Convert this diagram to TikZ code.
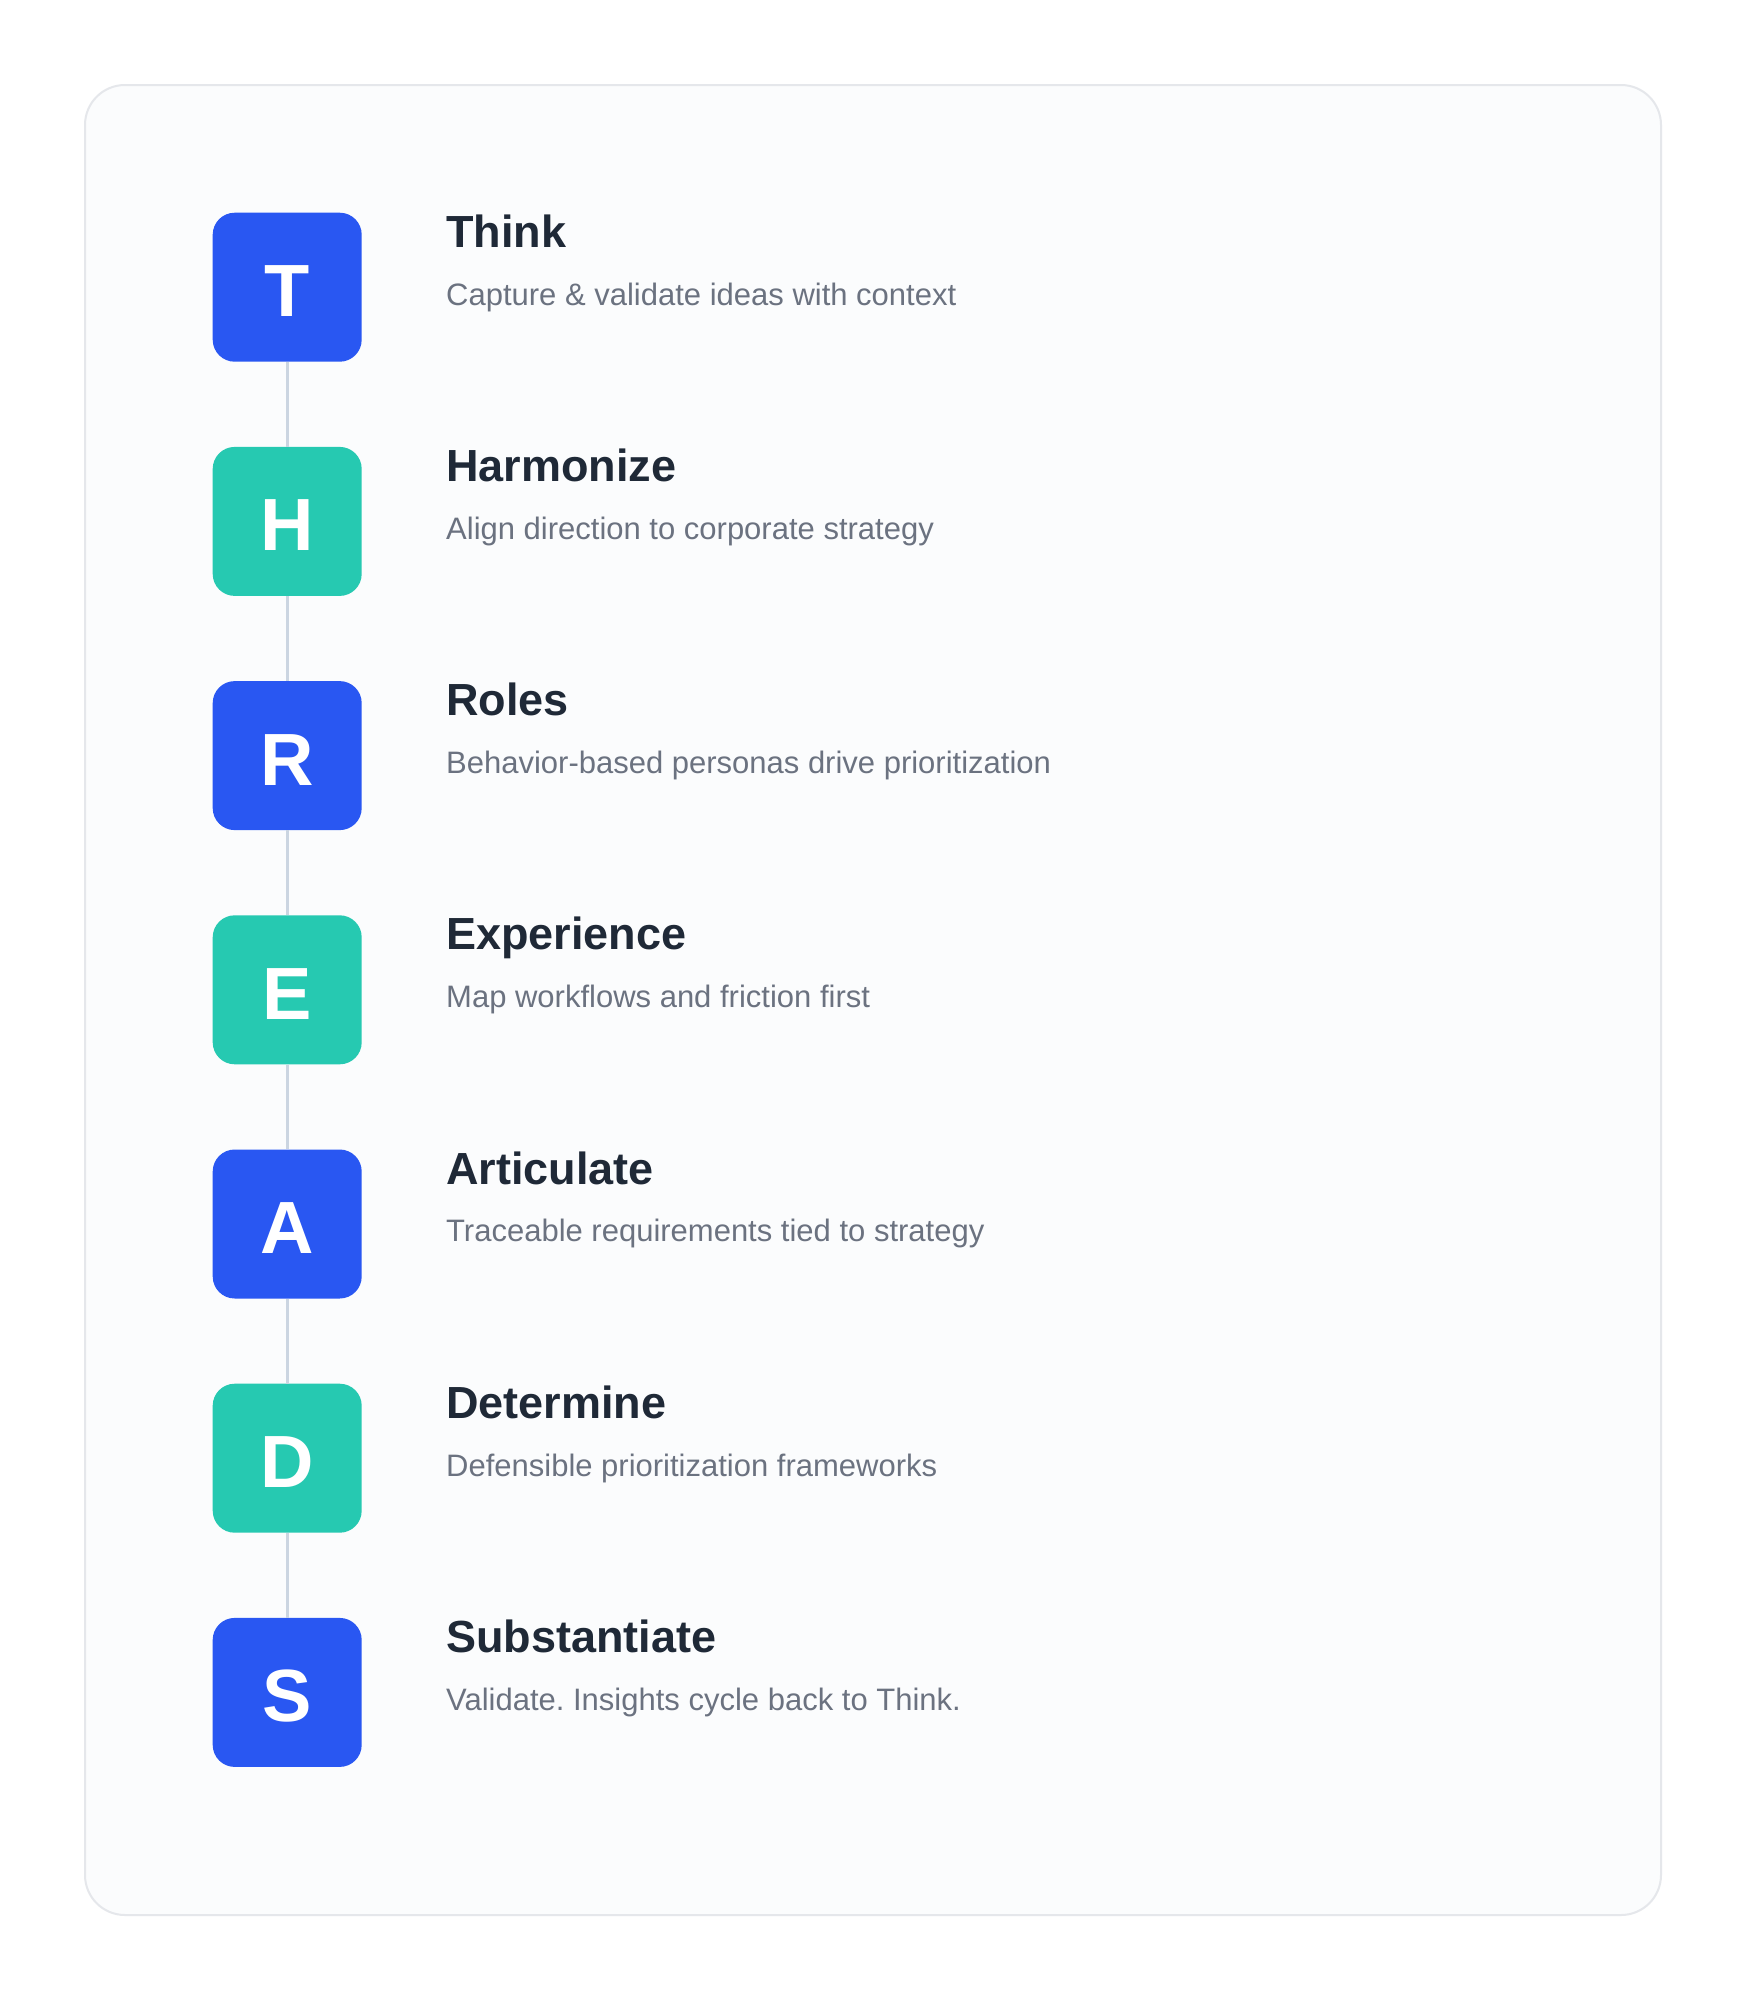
\documentclass[tikz,border=0pt]{standalone}
\usepackage{fontspec}
\setmainfont{Liberation Sans}
\definecolor{cardfill}{HTML}{FBFCFD}
\definecolor{cardline}{HTML}{E5E7EB}
\definecolor{linkline}{HTML}{CBD5E1}
\definecolor{bluebox}{RGB}{41,87,242}
\definecolor{tealbox}{RGB}{38,201,177}
\definecolor{titlecol}{HTML}{1F2937}
\definecolor{desccol}{HTML}{6B7280}
\tikzset{
  letterbox/.style={minimum width=149pt, minimum height=149pt, inner sep=0pt,
    rounded corners=22pt, text=white, text height=59pt, text depth=0pt,
    font=\fontsize{74}{80}\selectfont\bfseries},
  bluestep/.style={letterbox, fill=bluebox},
  tealstep/.style={letterbox, fill=tealbox},
  titletext/.style={anchor=base west, inner sep=0pt, text=titlecol,
    font=\fontsize{45}{54}\selectfont\bfseries},
  desctext/.style={anchor=base west, inner sep=0pt, text=desccol,
    font=\fontsize{31}{37}\selectfont\frenchspacing},
  linkstyle/.style={draw=linkline, line width=3pt}
}
\begin{document}
\begin{tikzpicture}[x=1pt,y=-1pt]
\useasboundingbox (0,0) rectangle (1744,2000);
\fill[white] (0,0) rectangle (1744,2000);
\draw[cardline, fill=cardfill, line width=2pt, rounded corners=40pt] (85,85) rectangle (1661,1915);
% boxes
\foreach \i/\L/\S/\T/\D in {
  0/T/bluestep/Think/{Capture \& validate ideas with context},
  1/H/tealstep/Harmonize/{Align direction to corporate strategy},
  2/R/bluestep/Roles/{Behavior-based personas drive prioritization},
  3/E/tealstep/Experience/{Map workflows and friction first},
  4/A/bluestep/Articulate/{Traceable requirements tied to strategy},
  5/D/tealstep/Determine/{Defensible prioritization frameworks},
  6/S/bluestep/Substantiate/{Validate. Insights cycle back to Think.}}{
  \node[\S] (b\i) at (287.2, {287.2+234.2*\i}) {\L};
  \node[titletext] (t\i) at (446, {247.3+234.2*\i}) {\T};
  \node[desctext] (d\i) at (446, {305+234.2*\i}) {\D};
}
% connectors
\foreach \i [evaluate=\i as \j using int(\i+1)] in {0,...,5}{
  \draw[linkstyle] (b\i.south) -- (b\j.north);
}
\end{tikzpicture}
\end{document}
